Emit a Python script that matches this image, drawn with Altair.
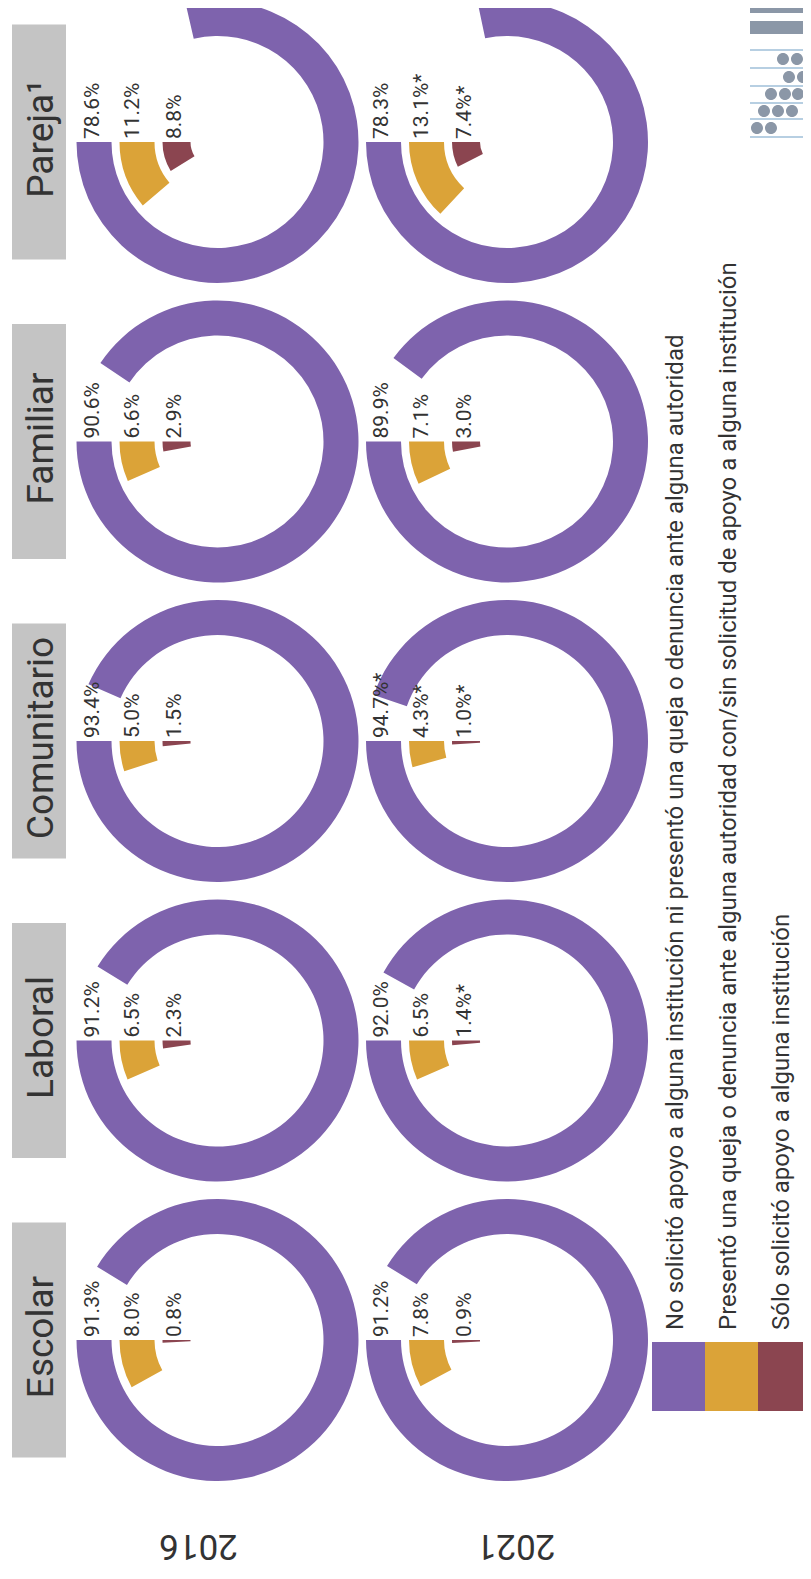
import altair as alt
import pandas as pd

# ---------------- data ----------------
categorias = ["Escolar", "Laboral", "Comunitario", "Familiar", "Pareja¹"]
anios = ["2016", "2021"]
series = [
    "No solicitó apoyo a alguna institución ni presentó una queja o denuncia ante alguna autoridad",
    "Presentó una queja o denuncia ante alguna autoridad con/sin solicitud de apoyo a alguna institución",
    "Sólo solicitó apoyo a alguna institución",
]
colores = ["#7e63ad", "#dba338", "#8b4550"]

no_solicito_2016 = [91.3, 91.2, 93.4, 90.6, 78.6]
queja_2016 = [8.0, 6.5, 5.0, 6.6, 11.2]
solo_apoyo_2016 = [0.8, 2.3, 1.5, 2.9, 8.8]

no_solicito_2021 = [91.2, 92.0, 94.7, 89.9, 78.3]
queja_2021 = [7.8, 6.5, 4.3, 7.1, 13.1]
solo_apoyo_2021 = [0.9, 1.4, 1.0, 3.0, 7.4]

# diferencia estadísticamente significativa (*) en 2021
sig_no_solicito_2021 = [False, False, True, False, False]
sig_queja_2021 = [False, False, True, False, True]
sig_solo_apoyo_2021 = [False, True, True, False, True]

valores = {
    "2016": [no_solicito_2016, queja_2016, solo_apoyo_2016],
    "2021": [no_solicito_2021, queja_2021, solo_apoyo_2021],
}
sig = {
    "2016": [[False] * 5, [False] * 5, [False] * 5],
    "2021": [sig_no_solicito_2021, sig_queja_2021, sig_solo_apoyo_2021],
}

rows = []
for anio in anios:
    for si, serie in enumerate(series):
        for ci, cat in enumerate(categorias):
            v = valores[anio][si][ci]
            lab = f"{v:.1f}%" + ("*" if sig[anio][si][ci] else "")
            rows.append({"anio": anio, "serie": serie, "categoria": cat,
                         "valor": v, "etiqueta": lab})
df = pd.DataFrame(rows)

# ---------------- styling ----------------
FONT = "Roboto"
TXT = "#333333"
START = 10.995574  # 9 o'clock (3*pi/2) + 2*pi, rings run counter-clockwise
FULL = 6.283185
x_year = alt.Scale(type="point", domain=anios, range=[209.5, 499], padding=0)
y_cat = alt.Scale(type="point", domain=categorias, range=[1332, 134], padding=0)
theta_sc = alt.Scale(domain=[0, 100], range=[START, START - FULL])
color_sc = alt.Scale(domain=series, range=colores)

ring_outer = [141, 98, 55]
ring_inner = [106, 63, 27]
label_r = [119, 79, 36.5]

base = alt.Chart(df)
layers = []
for i, s in enumerate(series):
    sub = base.transform_filter(alt.datum.serie == s)
    layers.append(
        sub.mark_arc(radius=ring_outer[i], radius2=ring_inner[i]).encode(
            x=alt.X("anio:N", scale=x_year, axis=None),
            y=alt.Y("categoria:N", scale=y_cat, axis=None),
            theta=alt.Theta("valor:Q", stack=None, scale=theta_sc),
            theta2=alt.value(START),
            color=alt.Color("serie:N", scale=color_sc, legend=None),
        )
    )
    layers.append(
        sub.mark_text(angle=270, align="left", baseline="alphabetic", dx=3,
                      dy=-label_r[i], fontSize=21, font=FONT, color=TXT).encode(
            x=alt.X("anio:N", scale=x_year, axis=None),
            y=alt.Y("categoria:N", scale=y_cat, axis=None),
            text="etiqueta:N",
        )
    )

# headers
hdr = alt.Chart(pd.DataFrame({"categoria": categorias}))
layers.append(
    hdr.mark_rect(height=235, color="#c4c4c4").encode(
        x=alt.value(4), x2=alt.value(58),
        y=alt.Y("categoria:N", scale=y_cat, axis=None),
    )
)
layers.append(
    hdr.mark_text(angle=270, align="center", baseline="alphabetic", dx=3,
                  fontSize=37, font=FONT, color=TXT).encode(
        x=alt.value(45),
        y=alt.Y("categoria:N", scale=y_cat, axis=None),
        text="categoria:N",
    )
)

# year labels (upside down)
yr = alt.Chart(pd.DataFrame({"anio": anios}))
layers.append(
    yr.mark_text(angle=180, align="center", baseline="middle", fontSize=35,
                 font=FONT, color=TXT).encode(
        x=alt.X("anio:N", scale=alt.Scale(type="point", domain=anios,
                                           range=[190.5, 508], padding=0), axis=None),
        y=alt.value(1538),
        text="anio:N",
    )
)

# legend
leg = alt.Chart(pd.DataFrame({"serie": series}))
leg_x = alt.Scale(type="band", domain=series, range=[644, 803],
                  paddingInner=0, paddingOuter=0)
layers.append(
    leg.mark_rect().encode(
        x=alt.X("serie:N", scale=leg_x, axis=None),
        y=alt.value(1334), y2=alt.value(1403),
        color=alt.Color("serie:N", scale=color_sc, legend=None),
    )
)
layers.append(
    leg.mark_text(angle=270, align="left", baseline="alphabetic", dy=4,
                  fontSize=24, font=FONT, color=TXT).encode(
        x=alt.X("serie:N", scale=leg_x, axis=None),
        y=alt.value(1322),
        text="serie:N",
    )
)

# logo (decorative)
def circ(cx, cy, r=6):
    return f"M{cx - r},{cy}a{r},{r} 0 1,0 {2 * r},0a{r},{r} 0 1,0 {-2 * r},0Z"

gray_path = "M-24,-70H31V-57H-30V-64Q-30,-70 -24,-70Z M-30,-49H31V-42Q31,-36 25,-36H-30Z "
for cx, cy in [(3, -11), (17, -11), (9, 7), (23, 7), (-9, 24), (5, 24), (18, 24),
               (-16, 41), (-2, 41), (12, 41), (-23, 58), (-9, 58)]:
    gray_path += circ(cx, cy) + " "
blue_path = " ".join(f"M-30,{y - 1}H31V{y + 1}H-30Z" for y in [-20, -2, 16, 33, 49, 67])

logo_src = alt.Chart(pd.DataFrame({"k": [0]}))
layers.append(
    logo_src.mark_point(shape=blue_path, size=4, filled=True, opacity=1,
                        color="#b7cfe2", strokeWidth=0).encode(
        x=alt.value(772), y=alt.value(62))
)
layers.append(
    logo_src.mark_point(shape=gray_path, size=4, filled=True, opacity=1,
                        color="#8b97a7", strokeWidth=0).encode(
        x=alt.value(772), y=alt.value(62))
)

chart = alt.layer(*layers).resolve_scale(x="independent", y="independent").properties(
    width=795, height=1558, padding=0, autosize="none"
).configure_view(stroke=None)

chart.save("out.html", embed_options={"renderer": "svg", "actions": False})
